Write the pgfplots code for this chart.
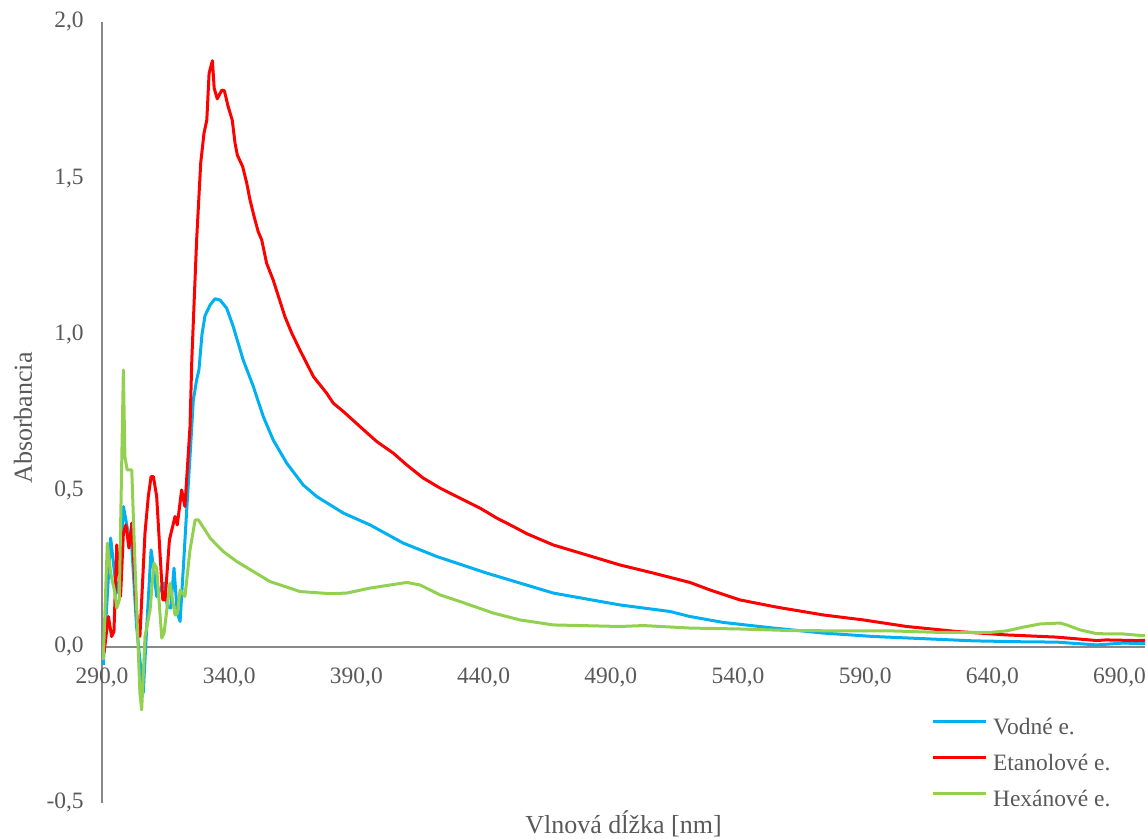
\documentclass[border=0pt]{standalone}
\usepackage{fontspec}
\setmainfont{Liberation Serif}
\usepackage{pgfplots}
\usepackage{pgfplotstable}
\pgfplotsset{compat=1.18}
\definecolor{cblue}{HTML}{00B0F0}
\definecolor{cred}{HTML}{FF0000}
\definecolor{cgreen}{HTML}{92D050}
\definecolor{txtgray}{HTML}{595959}
\definecolor{axgray}{HTML}{888888}

\pgfplotstableread{
x y
290.5 -0.058
293.4 0.348
295.8 0.172
297.1 0.225
298.4 0.449
299.4 0.406
300.3 0.364
301.7 0.321
303.6 0.065
306.2 -0.148
307.6 0.065
309.3 0.310
310.2 0.257
311.5 0.161
312.8 0.182
314.4 0.204
315.7 0.129
317.0 0.124
318.3 0.252
319.6 0.108
320.7 0.081
322.0 0.257
323.3 0.438
324.6 0.609
325.9 0.790
327.2 0.854
328.1 0.886
329.3 1.000
330.5 1.060
332.5 1.094
334.4 1.114
336.4 1.110
339.0 1.084
341.6 1.025
345.5 0.918
349.5 0.833
353.4 0.737
357.3 0.662
362.6 0.588
369.1 0.518
374.4 0.481
384.9 0.428
395.4 0.390
408.4 0.332
421.6 0.289
441.2 0.236
467.4 0.172
493.6 0.134
513.3 0.113
521.1 0.097
534.2 0.078
553.9 0.060
573.5 0.044
593.2 0.033
612.9 0.026
632.5 0.019
652.2 0.016
665.3 0.015
681.0 0.006
691.5 0.012
698.7 0.010
700.0 0.010
}\bluetab

\pgfplotstableread{
x y
290.8 -0.020
292.5 0.097
293.8 0.033
294.7 0.049
295.8 0.326
297.3 0.161
298.4 0.364
299.4 0.390
300.6 0.316
301.7 0.396
303.6 0.108
304.9 0.033
306.9 0.364
308.2 0.481
309.3 0.545
310.2 0.545
311.5 0.481
312.8 0.300
313.9 0.150
314.8 0.150
316.5 0.342
318.7 0.417
319.6 0.390
321.3 0.502
322.6 0.449
324.6 0.705
325.3 0.918
327.2 1.302
328.8 1.548
330.1 1.644
331.2 1.686
332.1 1.836
333.4 1.876
334.1 1.788
335.3 1.754
337.1 1.782
338.1 1.780
339.6 1.729
341.2 1.686
342.3 1.612
343.2 1.574
345.3 1.537
346.9 1.484
348.2 1.430
349.8 1.377
351.4 1.329
352.8 1.302
354.7 1.228
357.3 1.174
361.9 1.057
364.6 1.004
367.8 0.950
373.1 0.865
378.3 0.812
380.9 0.780
384.9 0.753
391.4 0.705
398.0 0.657
404.5 0.620
409.8 0.582
416.3 0.540
422.9 0.508
430.7 0.476
438.6 0.444
445.2 0.412
451.7 0.385
457.0 0.362
467.4 0.326
480.5 0.294
493.6 0.262
506.7 0.236
521.1 0.206
529.0 0.182
540.8 0.150
555.2 0.127
573.5 0.102
589.3 0.086
606.3 0.065
626.0 0.049
645.6 0.038
665.3 0.031
681.0 0.020
684.7 0.022
696.7 0.020
700.0 0.021
}\redtab

\pgfplotstableread{
x y
290.5 -0.042
292.1 0.332
293.4 0.236
295.1 0.172
295.8 0.124
296.8 0.150
298.4 0.886
299.0 0.609
299.9 0.566
301.7 0.566
303.0 0.257
304.9 -0.148
305.6 -0.202
306.9 0.033
308.9 0.118
310.4 0.268
311.5 0.252
313.5 0.028
314.4 0.044
316.7 0.204
318.7 0.102
319.6 0.106
320.7 0.182
322.6 0.161
324.6 0.310
326.6 0.406
327.9 0.406
330.5 0.374
332.5 0.348
335.1 0.326
337.7 0.305
340.3 0.289
343.0 0.273
356.0 0.209
367.8 0.177
379.6 0.170
386.2 0.172
395.4 0.188
409.8 0.206
415.0 0.198
422.9 0.166
430.7 0.145
443.8 0.108
454.3 0.086
467.4 0.070
493.6 0.065
502.8 0.068
521.1 0.060
540.8 0.057
560.5 0.052
580.1 0.051
599.8 0.051
619.4 0.046
639.1 0.046
645.6 0.051
652.2 0.063
658.7 0.073
666.6 0.076
669.2 0.070
674.5 0.054
681.0 0.042
691.5 0.041
698.7 0.036
700.0 0.036
}\greentab

\begin{document}
\begin{tikzpicture}
\begin{axis}[
  name=ax,
  scale only axis,
  width=782.25pt, height=585.75pt,
  xmin=290, xmax=700, ymin=-0.5, ymax=2.0,
  axis x line=middle, axis y line=left,
  axis line style={-, draw=axgray, line width=1.2pt},
  xtick={290,340,390,440,490,540,590,640,690},
  ytick={-0.5,0,0.5,1,1.5,2},
  major tick length=0pt,
  hide obscured x ticks=false, hide obscured y ticks=false,
  /pgf/number format/use comma,
  /pgf/number format/fixed,
  /pgf/number format/fixed zerofill,
  /pgf/number format/precision=1,
  /pgf/number format/assume math mode=true,
  tick label style={font=\fontsize{17.6}{20}\selectfont, text=txtgray},
  xticklabel style={anchor=north, inner sep=0pt, yshift=-15.75pt},
  yticklabel style={anchor=east, inner sep=0pt, xshift=-13.5pt},
  xlabel={Vlnová dĺžka [nm]},
  ylabel={Absorbancia},
  every axis x label/.style={at={(axis description cs:0.5,0)}, anchor=base, yshift=-22.5pt, font=\fontsize{19.5}{22}\selectfont, text=txtgray},
  every axis y label/.style={at={([xshift=-52.5pt]axis description cs:0,0.493)}, anchor=base, rotate=90, font=\fontsize{19.5}{22}\selectfont, text=txtgray},
  legend cell align=left,
  legend style={at={(axis description cs:0.795,0.112)}, anchor=north west, draw=none, fill=none, inner sep=0pt, row sep=7pt, column sep=2pt, font=\fontsize{17.6}{20}\selectfont, text=txtgray, nodes={text height=12pt, text depth=4pt, inner sep=2pt}},
  legend image code/.code={\draw[#1] (0pt,5.5pt) -- (40pt,5.5pt);},
]
\addplot[cblue, line width=2.25pt, line join=round] table {\bluetab};
\addplot[cred, line width=2.25pt, line join=round] table {\redtab};
\addplot[cgreen, line width=2.25pt, line join=round] table {\greentab};
\legend{Vodné e., Etanolové e., Hexánové e.}
\end{axis}
\pgfresetboundingbox
\path ([xshift=-76.5pt,yshift=-26.25pt]ax.south west) rectangle ([xshift=2.25pt,yshift=16.5pt]ax.north east);
\end{tikzpicture}
\end{document}
